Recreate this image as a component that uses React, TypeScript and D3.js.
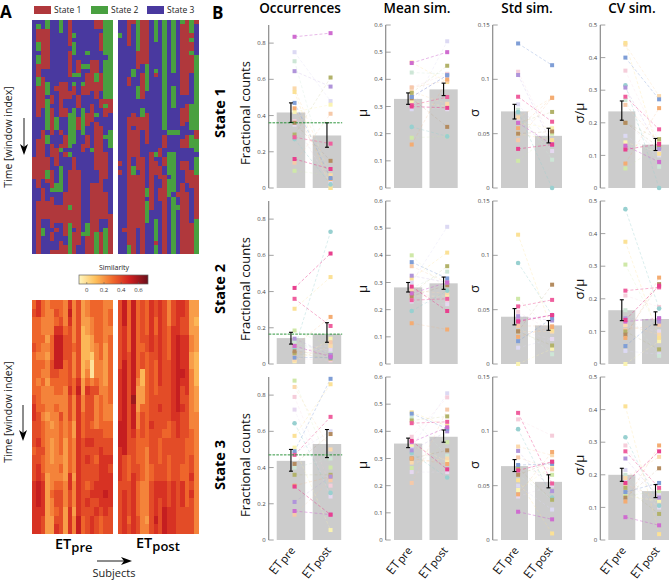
import React from "react";
import * as d3 from "d3";

const FONT = "'Open Sans', sans-serif";

// ---- Panel A: state time-courses, one run-length string per subject ----
const statesPre = [
  "B31R5B17",
  "B1G1R3G2B1G2R3G2R7B5R11B3R17",
  "B2R9B2R7B5R11B2R7B2G2B4",
  "G2R9B3G3B1G7B1G2B3R3G2R1B4R4B13",
  "B17R2B1R6B2R3B3R4G1B1R7B1R2B2R4",
  "B15R1B6G3B4R4B4G2B3R4B1R1B4R3",
  "G3B11R8B3R1B2R1G1B3G6B3R4B4R3",
  "B14R4B2R2B4R3B1R1B8R10B2R3",
  "R6B1R6B3R2B3G8B1G1B3R8G1R3G9",
  "B3G1B1G3B4G1B1G1R2B3G8B3R16B1R3",
  "B9R3G1B4R3B2R3B9R17B3",
  "B10G1B3G1R2B3G6B2R2B18G1B3",
  "B7G1B2G1B1R5B4R3B2R3B17G3R3",
  "B6B3R7B3R4B6G1B7R17",
  "R2B7R3G2R4B3G1B1R11B3R11G6",
  "R2B1R4B5R4B2R2B4R21B3R5",
  "G8B1G9R1G1R2B4G1B3R6B3R6B2G6",
  "G18R3B4G4B15R9"
];
const statesPost = [
  "B3G1B28R1B1R1B18",
  "B47R1B5",
  "R6B7R2B7R29G2",
  "R1B10G2B8R3B1R6B2G2R18",
  "G7R4B4G3B4R12B1R12B6",
  "R10B2R6B2G2R3B6R22",
  "R10G6B5R7B10G2B1G5B7",
  "B30R13B10",
  "G5B6G1R1B17G1B1R3B6B4G5R1G2G1",
  "B29R2B2R3B2R3B12",
  "G25B1R3B2R2B2R18",
  "B25G1B4G5B1G4B13",
  "G12B3G5B5G1B4G9B1G13",
  "B25G1B13R1B2G1B10",
  "G1R16B3R4B3R2B3R2B3R16",
  "R17B2R4B3R3B3R5B2R14",
  "G3R1G1R2G1R4B7G6B1G3B5R4B8R3R4",
  "R1B7G17R2G3B1G4R10G9"
];
const stateColor: Record<string, string> = { R: "#b0383c", G: "#49a040", B: "#49399f" };

// ---- Panel A: similarity per subject, one digit per two windows (0 low ... 9 high) ----
const simPre = [
  "565556555556776665666777777",
  "775555455455566676677888777",
  "554454454544545556556777766",
  "444434344344434444443333333",
  "544455566544443433344454433",
  "565788886554544444444566567",
  "556788885554465555454566666",
  "444566655544444433333444333",
  "787666666676665555557766777",
  "444445444554443344443444344",
  "666666666787777777777777788",
  "333222222334455566666666655",
  "443322234576666676766567666",
  "554433100466665676666676677",
  "555554444564444666566776766",
  "555555544445555667777777655",
  "444443333344445566777787766",
  "455455555555445566767777666"
];
const simPost = [
  "666666667777778887777666666",
  "888777788888888888666677777",
  "555555666666666666555666656",
  "888888888889888766667777777",
  "555555555433344555566555566",
  "666665662233566655555444444",
  "555566555555555554444444434",
  "777777666666667666655666666",
  "665566655556666666666777787",
  "777777777766766655566776666",
  "666666666666666566666777888",
  "444555566666665566555666777",
  "666777777777776666666777777",
  "777788888888877766666666666",
  "776677778766766666655777666",
  "666677777776666655555555666",
  "333344334444444555667676666",
  "332333222233344444444444444"
];

// ---- Colour scale for similarity ----
const simStops = [-0.09, 0.1, 0.3, 0.5, 0.71];
const simColors = ["#fff6bf", "#fdc05c", "#f0692c", "#cf2020", "#6a0f1c"];
const simTicks = [0, 0.2, 0.4, 0.6];
const simFromLevel = [-0.02, 0.06, 0.12, 0.18, 0.24, 0.31, 0.38, 0.45, 0.52, 0.6];

// ---- Panel B ----
const stateNames = ["State 1", "State 2", "State 3"];
const subjectColors = [
  "#cf6cd0", "#ef5f9e", "#e8408e", "#dcd9f3", "#98d0d0", "#cde6d6", "#b094da", "#7f9ed6",
  "#fbd9ac", "#fbe196", "#faf3b2", "#f6c9a8", "#cfe8a8", "#b2b26a", "#b48c60", "#f5cdda",
  "#f4ac72", "#e6d8f0"
];
const lineOpacity = [0.8, 0.8, 0.8, 0.5, 0.6, 0.5, 0.35, 0.6, 0.5, 0.5, 0.5, 0.45, 0.35, 0.3, 0.3, 0.35, 0.35, 0.4];
const drawOrder = [3, 5, 10, 12, 15, 17, 8, 9, 11, 4, 13, 14, 16, 6, 7, 0, 1, 2];

const occ1Pre = [0.835, 0.28, 0.16, 0.75, 0.27, 0.7, 0.645, 0.47, 0.55, 0.53, 0.42, 0.14, 0.095, 0.295, 0.36, 0.37, 0.44, 0.35];
const occ1Post = [0.855, 0.245, 0.105, 0.48, 0.02, 0.0, 0.56, 0.055, 0.07, 0.0, 0.46, 0.41, 0.07, 0.61, 0.15, 0.02, 0.05, 0.03];
const mean1Pre = [0.46, 0.305, 0.3, 0.29, 0.225, 0.425, 0.335, 0.335, 0.355, 0.462, 0.32, 0.37, 0.185, 0.35, 0.33, 0.37, 0.16, 0.3];
const mean1Post = [0.5, 0.335, 0.295, 0.54, 0.19, 0.42, 0.415, 0.415, 0.31, 0.39, 0.3, 0.395, 0.19, 0.45, 0.225, 0.42, 0.4, 0.29];
const std1Pre = [0.06, 0.084, 0.036, 0.077, 0.07, 0.072, 0.104, 0.133, 0.065, 0.05, 0.06, 0.044, 0.025, 0.06, 0.05, 0.107, 0.055, 0.062];
const std1Post = [0.04, 0.061, 0.04, 0.04, 0, 0.026, 0.04, 0.113, 0.083, 0.044, 0.055, 0.083, 0.05, 0.07, 0.052, 0.044, 0.083, 0.034];
const cv1Pre = [0.13, 0.28, 0.118, 0.16, 0.315, 0.27, 0.308, 0.4, 0.44, 0.445, 0.14, 0.255, 0.06, 0.2, 0.2, 0.36, 0.075, 0.2];
const cv1Post = [0.08, 0.18, 0.135, 0.1, 0, 0.065, 0.12, 0.272, 0.282, 0.105, 0.11, 0.14, 0.13, 0.15, 0.125, 0.14, 0.245, 0.11];

const occ2Pre = [0.1, 0.36, 0.42, 0.09, 0.085, 0.12, 0.14, 0.035, 0.02, 0.305, 0.015, 0.05, 0.185, 0.06, 0.07, 0.03, 0.1, 0.08];
const occ2Post = [0.04, 0.21, 0.61, 0.1, 0.73, 0.06, 0.05, 0.035, 0.1, 0.48, 0.14, 0.12, 0.1, 0.03, 0.05, 0.02, 0.26, 0.08];
const mean2Pre = [0.26, 0.235, 0.285, 0.3, 0.195, 0.28, 0.325, 0.375, 0.27, 0.315, 0.25, 0.36, 0.4, 0.26, 0.25, 0.27, 0.15, 0.23];
const mean2Post = [0.3, 0.24, 0.195, 0.505, 0.27, 0.34, 0.3, 0.315, 0.26, 0.41, 0.25, 0.3, 0.27, 0.36, 0.29, 0.235, 0.127, 0.22];
const std2Pre = [0.04, 0.053, 0.039, 0.015, 0.093, 0.035, 0.044, 0.021, 0.03, 0.119, 0, 0.035, 0.06, 0.03, 0.03, 0.048, 0.025, 0.03];
const std2Post = [0.045, 0.059, 0.045, 0.023, 0.045, 0.009, 0.04, 0.042, 0.03, 0.031, 0.014, 0.035, 0.03, 0.017, 0.073, 0.03, 0.034, 0.023];
const cv2Pre = [0.13, 0.225, 0.135, 0.04, 0.475, 0.165, 0.14, 0.055, 0.12, 0.375, 0, 0.105, 0.305, 0.1, 0.09, 0.21, 0.08, 0.12];
const cv2Post = [0.14, 0.235, 0.24, 0.03, 0.17, 0.025, 0.13, 0.14, 0.09, 0.08, 0.07, 0.12, 0.1, 0.045, 0.245, 0.175, 0.265, 0.1];

const occ3Pre = [0.16, 0.47, 0.295, 0.48, 0.645, 0.4, 0.21, 0.49, 0.845, 0.575, 0.51, 0.14, 0.88, 0.36, 0.42, 0.79, 0.3, 0.72];
const occ3Post = [0.14, 0.68, 0.14, 0.6, 0.26, 0.45, 0.35, 0.89, 0.5, 0.86, 0.055, 0.33, 0.4, 0.36, 0.585, 0.3, 0.35, 0.24];
const mean3Pre = [0.36, 0.43, 0.365, 0.34, 0.32, 0.45, 0.33, 0.465, 0.285, 0.47, 0.35, 0.21, 0.265, 0.44, 0.3, 0.38, 0.3, 0.25];
const mean3Post = [0.415, 0.435, 0.26, 0.54, 0.23, 0.31, 0.4, 0.41, 0.3, 0.42, 0.29, 0.48, 0.36, 0.455, 0.33, 0.525, 0.28, 0.25];
const std3Pre = [0.026, 0.117, 0.064, 0.05, 0.102, 0.06, 0.082, 0.069, 0.086, 0.055, 0.046, 0.076, 0.066, 0.066, 0.06, 0.111, 0.042, 0.04];
const std3Post = [0.019, 0.052, 0.072, 0.028, 0.039, 0.037, 0.045, 0.07, 0.078, 0.006, 0.068, 0.065, 0.06, 0.037, 0.072, 0.096, 0.081, 0.05];
const cv3Pre = [0.07, 0.272, 0.175, 0.215, 0.315, 0.2, 0.25, 0.147, 0.19, 0.41, 0.135, 0.17, 0.135, 0.16, 0.13, 0.29, 0.118, 0.18];
const cv3Post = [0.045, 0.16, 0.272, 0.14, 0.105, 0.1, 0.13, 0.175, 0.255, 0.018, 0.12, 0.13, 0.15, 0.08, 0.22, 0.13, 0.29, 0.1];

const barOcc = [[0.417, 0.29], [0.143, 0.165], [0.437, 0.53]];
const errOcc = [[[0.362, 0.47], [0.225, 0.36]], [[0.11, 0.175], [0.12, 0.228]], [[0.38, 0.5], [0.455, 0.61]]];
const barMean = [[0.328, 0.363], [0.282, 0.297], [0.355, 0.38]];
const errMean = [[[0.308, 0.35], [0.34, 0.386]], [[0.265, 0.3], [0.275, 0.32]], [[0.34, 0.375], [0.36, 0.405]]];
const barStd = [[0.0705, 0.048], [0.0435, 0.0355], [0.068, 0.0535]];
const errStd = [[[0.0635, 0.077], [0.0415, 0.055]], [[0.036, 0.051], [0.031, 0.04]], [[0.063, 0.074], [0.048, 0.06]]];
const barCv = [[0.235, 0.133], [0.165, 0.138], [0.2, 0.15]];
const errCv = [[[0.208, 0.267], [0.115, 0.152]], [[0.133, 0.197], [0.12, 0.16]], [[0.18, 0.22], [0.13, 0.17]]];
const chance = [0.36, 0.165, 0.47];

const occPairs = [[occ1Pre, occ1Post], [occ2Pre, occ2Post], [occ3Pre, occ3Post]];
const meanPairs = [[mean1Pre, mean1Post], [mean2Pre, mean2Post], [mean3Pre, mean3Post]];
const stdPairs = [[std1Pre, std1Post], [std2Pre, std2Post], [std3Pre, std3Post]];
const cvPairs = [[cv1Pre, cv1Post], [cv2Pre, cv2Post], [cv3Pre, cv3Post]];

const metrics = [
  { title: "Occurrences", ylabel: "Fractional counts", top: 0.9, ticks: [0, 0.2, 0.4, 0.6, 0.8], bars: barOcc, errs: errOcc, pairs: occPairs, axisX: 268.7, bar0: 276.7, bar1: 312.7, barW: 28.5, labelX: 245, titleX: 300 },
  { title: "Mean sim.", ylabel: "μ", top: 0.6, ticks: [0, 0.1, 0.2, 0.3, 0.4, 0.5, 0.6], bars: barMean, errs: errMean, pairs: meanPairs, axisX: 385.7, bar0: 394, bar1: 429.5, barW: 28.2, labelX: 362, titleX: 417 },
  { title: "Std sim.", ylabel: "σ", top: 0.15, ticks: [0, 0.05, 0.1, 0.15], bars: barStd, errs: errStd, pairs: stdPairs, axisX: 492.7, bar0: 501, bar1: 535, barW: 27, labelX: 474, titleX: 527 },
  { title: "CV sim.", ylabel: "σ/μ", top: 0.5, ticks: [0, 0.1, 0.2, 0.3, 0.4, 0.5], bars: barCv, errs: errCv, pairs: cvPairs, axisX: 600.3, bar0: 608.3, bar1: 642, barW: 27, labelX: 579, titleX: 632 }
];
const rowBottoms = [188, 364, 540];
const rowHeight = 163;
const ROWS = 53;

const parseRuns = (s: string) =>
  Array.from(s.matchAll(/([RGB])(\d+)/g)).map((m) => ({ st: m[1], len: +m[2] }));

const simScale = d3.scaleLinear<string>().domain(simStops).range(simColors).interpolate(d3.interpolateRgb);

function StateGroup({ data, x0, x1 }: { data: string[]; x0: number; x1: number }) {
  const xs = d3.scaleBand().domain(d3.range(data.length).map(String)).range([x0, x1]);
  const ys = d3.scaleLinear().domain([0, ROWS]).range([20, 254]);
  return (
    <g filter="url(#soft)" shapeRendering="crispEdges">
      <rect x={x0} y={20} width={x1 - x0} height={234} fill={stateColor.B} />
      {data.map((col, i) => {
        let r = 0;
        const runs = parseRuns(col);
        return runs.map((run, k) => {
          const start = r;
          r += run.len;
          const stop = k === runs.length - 1 ? ROWS : Math.min(r, ROWS);
          if (start >= ROWS) return null;
          return <rect key={i + "-" + k} x={xs(String(i))!} y={ys(start)} width={xs.bandwidth() + 0.5} height={ys(stop) - ys(start)} fill={stateColor[run.st]} />;
        });
      })}
    </g>
  );
}

function SimGroup({ data, x0, x1 }: { data: string[]; x0: number; x1: number }) {
  const xs = d3.scaleBand().domain(d3.range(data.length).map(String)).range([x0, x1]);
  const ys = d3.scaleBand().domain(d3.range(data[0].length).map(String)).range([300, 533]);
  return (
    <g filter="url(#soft)" shapeRendering="crispEdges">
      {data.map((col, i) =>
        col.split("").map((c, r) => (
          <rect key={i + "-" + r} x={xs(String(i))!} y={ys(String(r))!} width={xs.bandwidth() + 0.5} height={ys.bandwidth() + 0.5} fill={simScale(simFromLevel[+c])} />
        ))
      )}
    </g>
  );
}

function Panel({ m, row }: { m: (typeof metrics)[number]; row: number }) {
  const bottom = rowBottoms[row];
  const y = d3.scaleLinear().domain([0, m.top]).range([bottom, bottom - rowHeight]);
  const bx = [m.bar0, m.bar1];
  const [pre, post] = m.pairs[row];
  const ptX = bx.map((b) => b + m.barW / 2 + 3.6);
  const erX = bx.map((b) => b + m.barW / 2);
  const fmt = (t: number) => (t === 0 ? "0" : String(t));
  return (
    <g>
      <line x1={m.axisX} x2={m.axisX} y1={y(m.top)} y2={bottom} stroke="#8a8a8a" strokeWidth={1.2} />
      {m.ticks.map((t) => (
        <g key={t}>
          <line x1={m.axisX} x2={m.axisX + 5} y1={y(t)} y2={y(t)} stroke="#8a8a8a" strokeWidth={0.8} />
          <text x={m.axisX - 3} y={y(t) + 2.1} fontSize={6} textAnchor="end" fill="#444" fontFamily={FONT}>{fmt(t)}</text>
        </g>
      ))}
      {m.bars[row].map((v, i) => (
        <rect key={i} x={bx[i]} y={y(v)} width={m.barW} height={bottom - y(v)} fill="#cccccc" />
      ))}
      <g filter="url(#softer)">
        {drawOrder.map((s) => (
          <line key={s} x1={ptX[0]} x2={ptX[1]} y1={y(pre[s])} y2={y(post[s])} stroke={subjectColors[s]} strokeWidth={0.6} strokeDasharray="3 2" opacity={lineOpacity[s]} />
        ))}
        {drawOrder.map((s) =>
          [pre[s], post[s]].map((v, i) =>
            s === 4 ? (
              <circle key={s + "-" + i} cx={ptX[i]} cy={y(v)} r={2.3} fill={subjectColors[s]} />
            ) : (
              <rect key={s + "-" + i} x={ptX[i] - 2} y={y(v) - 2} width={4} height={4} fill={subjectColors[s]} />
            )
          )
        )}
      </g>
      {m.errs[row].map(([lo, hi], i) => (
        <g key={i} stroke="#000" strokeWidth={1.1}>
          <line x1={erX[i]} x2={erX[i]} y1={y(lo)} y2={y(hi)} />
          <line x1={erX[i] - 2} x2={erX[i] + 2} y1={y(lo)} y2={y(lo)} />
          <line x1={erX[i] - 2} x2={erX[i] + 2} y1={y(hi)} y2={y(hi)} />
        </g>
      ))}
      {m.title === "Occurrences" && (
        <line x1={m.axisX} x2={m.bar1 + m.barW + 1} y1={y(chance[row])} y2={y(chance[row])} stroke="#1a8a2a" strokeWidth={0.9} strokeDasharray="2.6 1.2" />
      )}
      <text transform={`translate(${m.labelX + 4.5},${bottom - 75}) rotate(-90)`} textAnchor="middle" fontSize={13} fill="#111" fontFamily={FONT}>{m.ylabel}</text>
      {row === 2 &&
        ["pre", "post"].map((sub, i) => (
          <text key={sub} transform={`translate(${bx[i] + m.barW / 2 + 4},${bottom + 10}) rotate(-52)`} textAnchor="end" fontSize={12.5} fill="#111" fontFamily={FONT}>
            ET<tspan fontSize={11} dx={1} dy={1}>{sub}</tspan>
          </text>
        ))}
    </g>
  );
}

function Arrow({ x1, y1, x2, y2 }: { x1: number; y1: number; x2: number; y2: number }) {
  const a = Math.atan2(y2 - y1, x2 - x1);
  const p = (l: number, w: number) => [x2 - l * Math.cos(a) - w * Math.sin(a), y2 - l * Math.sin(a) + w * Math.cos(a)].join(",");
  return (
    <g>
      <line x1={x1} y1={y1} x2={x2 - 5 * Math.cos(a)} y2={y2 - 5 * Math.sin(a)} stroke="#000" strokeWidth={0.9} />
      <polygon points={`${x2},${y2} ${p(11, 4)} ${p(8, 0)} ${p(11, -4)}`} fill="#000" />
    </g>
  );
}

export default function App() {
  const barId = "simgrad";
  const cbX = d3.scaleLinear().domain([-0.09, 0.71]).range([79, 148]);
  const legend = [
    { label: "State 1", c: stateColor.R, x: 34 },
    { label: "State 2", c: stateColor.G, x: 91 },
    { label: "State 3", c: stateColor.B, x: 147 }
  ];
  return (
    <svg width={669} height={581} viewBox="0 0 669 581" style={{ position: "absolute", left: 0, top: 0, display: "block", background: "#fff" }}>
      <defs>
        <linearGradient id={barId}>
          {simStops.map((s, i) => (
            <stop key={s} offset={(s + 0.09) / 0.8} stopColor={simColors[i]} />
          ))}
        </linearGradient>
        <filter id="soft" x="-2%" y="-2%" width="104%" height="104%" colorInterpolationFilters="sRGB">
          <feGaussianBlur stdDeviation={0.45} />
        </filter>
        <filter id="softer" filterUnits="userSpaceOnUse" x={0} y={0} width={669} height={581} colorInterpolationFilters="sRGB">
          <feGaussianBlur stdDeviation={0.35} />
        </filter>
      </defs>
      <text x={0} y={18} fontSize={17} fontWeight={700} fontFamily={FONT}>A</text>
      <text x={212} y={19} fontSize={17} fontWeight={700} fontFamily={FONT}>B</text>
      {legend.map((l) => (
        <g key={l.label}>
          <rect x={l.x} y={6} width={17} height={8} fill={l.c} />
          <text x={l.x + 20} y={13} fontSize={8.5} fill="#222" fontFamily={FONT}>{l.label}</text>
        </g>
      ))}
      <StateGroup data={statesPre} x0={32} x1={112} />
      <StateGroup data={statesPost} x0={118} x1={198} />
      <text transform="translate(11.5,137) rotate(-90)" textAnchor="middle" fontSize={10.5} fill="#222" fontFamily={FONT}>Time [window index]</text>
      <Arrow x1={24} y1={118} x2={24} y2={155} />

      <text x={114} y={270} textAnchor="middle" fontSize={7} fill="#222" fontFamily={FONT}>Similarity</text>
      <rect x={79} y={275} width={69} height={9} fill={`url(#${barId})`} stroke="#666" strokeWidth={0.7} />
      {simTicks.map((t) => (
        <g key={t}>
          <line x1={cbX(t)} x2={cbX(t)} y1={282} y2={284} stroke="#555" strokeWidth={0.5} />
          <text x={cbX(t)} y={292} textAnchor="middle" fontSize={6} fill="#333" fontFamily={FONT}>{t}</text>
        </g>
      ))}
      <SimGroup data={simPre} x0={32} x1={112} />
      <SimGroup data={simPost} x0={118} x1={198} />
      <text transform="translate(11.5,412) rotate(-90)" textAnchor="middle" fontSize={10.5} fill="#222" fontFamily={FONT}>Time [window index]</text>
      <Arrow x1={23} y1={405} x2={23} y2={441} />
      <text x={55} y={549} fontSize={14.5} fontWeight={600} fill="#000" fontFamily={FONT}>ET<tspan fontSize={13} dy={2.5}>pre</tspan></text>
      <text x={136} y={548} fontSize={14.5} fontWeight={600} fill="#000" fontFamily={FONT}>ET<tspan fontSize={13} dy={2.5}>post</tspan></text>
      <Arrow x1={97} y1={561} x2={132} y2={561} />
      <text x={114} y={577} textAnchor="middle" fontSize={11} fill="#222" fontFamily={FONT}>Subjects</text>

      {metrics.map((m) => (
        <text key={m.title} x={m.titleX} y={13} textAnchor="middle" fontSize={13.5} fontWeight={600} fill="#000" fontFamily={FONT}>{m.title}</text>
      ))}
      {stateNames.map((s, i) => (
        <text key={s} transform={`translate(225,${rowBottoms[i] - 75}) rotate(-90)`} textAnchor="middle" fontSize={14.5} fontWeight={700} fill="#000" fontFamily={FONT}>{s}</text>
      ))}
      {rowBottoms.map((_, r) => metrics.map((m) => <Panel key={m.title + r} m={m} row={r} />))}
    </svg>
  );
}
